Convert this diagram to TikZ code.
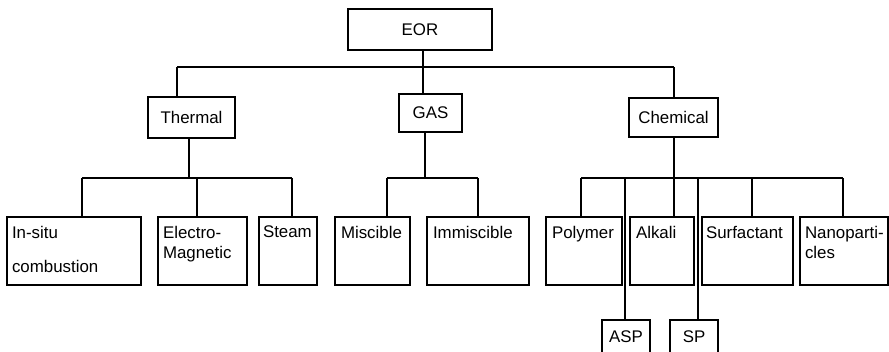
\documentclass[tikz,border=0pt]{standalone}
\usepackage{fontspec}
\setmainfont{Liberation Sans}

\begin{document}
\begin{tikzpicture}[x=0.025cm,y=-0.025cm,line width=0.8pt,
  every node/.style={inner sep=0pt,outer sep=0pt,font=\fontsize{12}{14.2}\selectfont},
  box/.style 2 args={draw,anchor=north west,minimum width=#1*0.025cm,minimum height=#2*0.025cm},
  lbl/.style={anchor=north west,align=left}]
\clip (0,0) rectangle (889,351);
% top level
\node [box={144}{41}] (eor) at (348,9) {EOR};
\node [box={87}{41}] (thermal) at (148,97) {Thermal};
\node [box={63}{38}] (gas) at (399,94) {GAS};
\node [box={89}{39}] (chem) at (629,98) {Chemical};
\coordinate (j-thermal) at (177,67);
\coordinate (j-gas) at (423,67);
\coordinate (j-chem) at (674,67);
\draw (eor.south -| j-gas) -- (j-gas);
\draw (j-thermal) -- (j-chem);
\draw (j-thermal) -- (j-thermal |- thermal.north);
\draw (j-gas) -- (j-gas |- gas.north);
\draw (j-chem) -- (j-chem |- chem.north);
% thermal methods
\node [box={134}{68}] (insitu) at (7,217) {};
\node [lbl] (insitu-t) at (12,226) {In-situ\\[0.35cm]combustion};
\node [box={89}{68}] (electro) at (158,217) {};
\node [lbl] (electro-t) at (163,226) {Electro-\\Magnetic};
\node [box={58}{68}] (steam) at (259,217) {};
\node [lbl] (steam-t) at (263,226) {Steam};
\coordinate (t-bus) at (189,178);
\coordinate (j-insitu) at (82,178);
\coordinate (j-electro) at (197,178);
\coordinate (j-steam) at (292,178);
\draw (thermal.south -| t-bus) -- (t-bus);
\draw (j-insitu) -- (j-steam);
\draw (j-insitu) -- (j-insitu |- insitu.north);
\draw (j-electro) -- (j-electro |- electro.north);
\draw (j-steam) -- (j-steam |- steam.north);
% gas methods
\node [box={75}{68}] (miscible) at (335,217) {};
\node [lbl] (miscible-t) at (341,226) {Miscible};
\node [box={102}{68}] (immiscible) at (427,217) {};
\node [lbl] (immiscible-t) at (433,226) {Immiscible};
\coordinate (g-bus) at (425,178);
\coordinate (j-miscible) at (387,178);
\coordinate (j-immiscible) at (478,178);
\draw (gas.south -| g-bus) -- (g-bus);
\draw (j-miscible) -- (j-immiscible);
\draw (j-miscible) -- (j-miscible |- miscible.north);
\draw (j-immiscible) -- (j-immiscible |- immiscible.north);
% chemical methods
\node [box={76}{68}] (polymer) at (546,217) {};
\node [lbl] (polymer-t) at (552,226) {Polymer};
\node [box={64}{68}] (alkali) at (630,217) {};
\node [lbl] (alkali-t) at (636,226) {Alkali};
\node [box={91}{68}] (surf) at (702,217) {};
\node [lbl] (surf-t) at (706,226) {Surfactant};
\node [box={88}{68}] (nano) at (800,217) {};
\node [lbl] (nano-t) at (805,226) {Nanoparti-\\cles};
\node [box={48}{33}] (asp) at (602,320) {ASP};
\node [box={48}{33}] (sp) at (670,320) {SP};
\coordinate (c-bus) at (674,178);
\coordinate (j-polymer) at (581,178);
\coordinate (j-asp) at (625,178);
\coordinate (j-alkali) at (674,178);
\coordinate (j-sp) at (698,178);
\coordinate (j-surf) at (752,178);
\coordinate (j-nano) at (843,178);
\draw (chem.south -| c-bus) -- (c-bus);
\draw (j-polymer) -- (j-nano);
\draw (j-polymer) -- (j-polymer |- polymer.north);
\draw (j-asp) -- (j-asp |- asp.north);
\draw (j-alkali) -- (j-alkali |- alkali.north);
\draw (j-sp) -- (j-sp |- sp.north);
\draw (j-surf) -- (j-surf |- surf.north);
\draw (j-nano) -- (j-nano |- nano.north);
\end{tikzpicture}
\end{document}
